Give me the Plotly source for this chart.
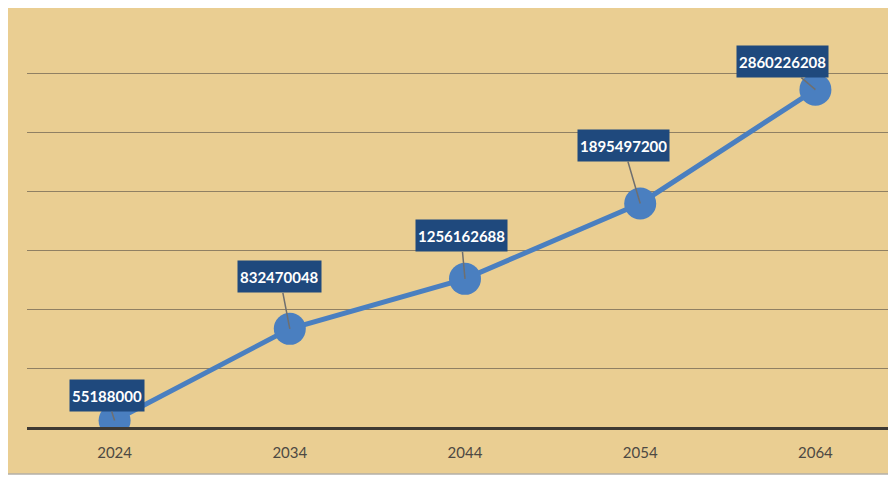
import plotly.graph_objects as go

years = ["2024", "2034", "2044", "2054", "2064"]
values = [55188000, 832470048, 1256162688, 1895497200, 2860226208]
labels = ["55188000", "832470048", "1256162688", "1895497200", "2860226208"]

# label offsets (pixels) from the point to the label box centre
label_dx = [-8, -10, -4, -17, -33]
label_dy = [-25, -52, -43, -58, -28]

# page body has an 8px margin, so the figure is sized to fit the window
W, H = 888, 469
ML, MR, MT, MB = 19, 0, 18, 50
pw, ph = W - ML - MR, H - MT - MB

fig = go.Figure()
fig.add_trace(go.Scatter(
    x=years, y=values, mode="lines+markers",
    line=dict(color="#4a7fc0", width=5),
    marker=dict(color="#4a7fc0", size=32, line=dict(width=0)),
    hoverinfo="skip", showlegend=False,
))

for i, (y, t, dx, dy) in enumerate(zip(values, labels, label_dx, label_dy)):
    fig.add_annotation(
        x=i, y=y, xref="x", yref="y", text="<b>%s</b>" % t, showarrow=True,
        ax=dx, ay=dy,
        arrowhead=0, arrowwidth=1.5, arrowcolor="#6f6f6f",
        font=dict(family="Lato, Open Sans, sans-serif", size=15, color="white"),
        bgcolor="#1f497d", borderpad=2, height=27,
    )

# papyrus panel with thin grey border
fig.add_shape(
    type="rect", xref="paper", yref="paper", layer="below",
    x0=(-1 - ML) / pw, x1=(W + 2 - ML) / pw,
    y0=((H - MB) - 466) / ph, y1=((H - MB) + 2) / ph,
    fillcolor="#eace92", line=dict(color="#b4b0a8", width=1.5),
)

fig.update_layout(
    width=W, height=H,
    margin=dict(l=ML, r=MR, t=MT, b=MB),
    paper_bgcolor="white", plot_bgcolor="rgba(0,0,0,0)",
    xaxis=dict(
        type="category", range=[-0.5, 4.46],
        showgrid=False, zeroline=False,
        showline=True, linecolor="#3f3a33", linewidth=3,
        ticks="", ticklabelstandoff=10,
        tickfont=dict(family="Lato, Open Sans, sans-serif", size=15, color="#4d4943"),
    ),
    yaxis=dict(
        range=[0, 3400e6], dtick=500e6,
        showgrid=True, gridcolor="rgba(105,95,80,0.7)", gridwidth=1,
        zeroline=False, showticklabels=False, showline=False, ticks="",
    ),
)

fig.write_html("out.html")
